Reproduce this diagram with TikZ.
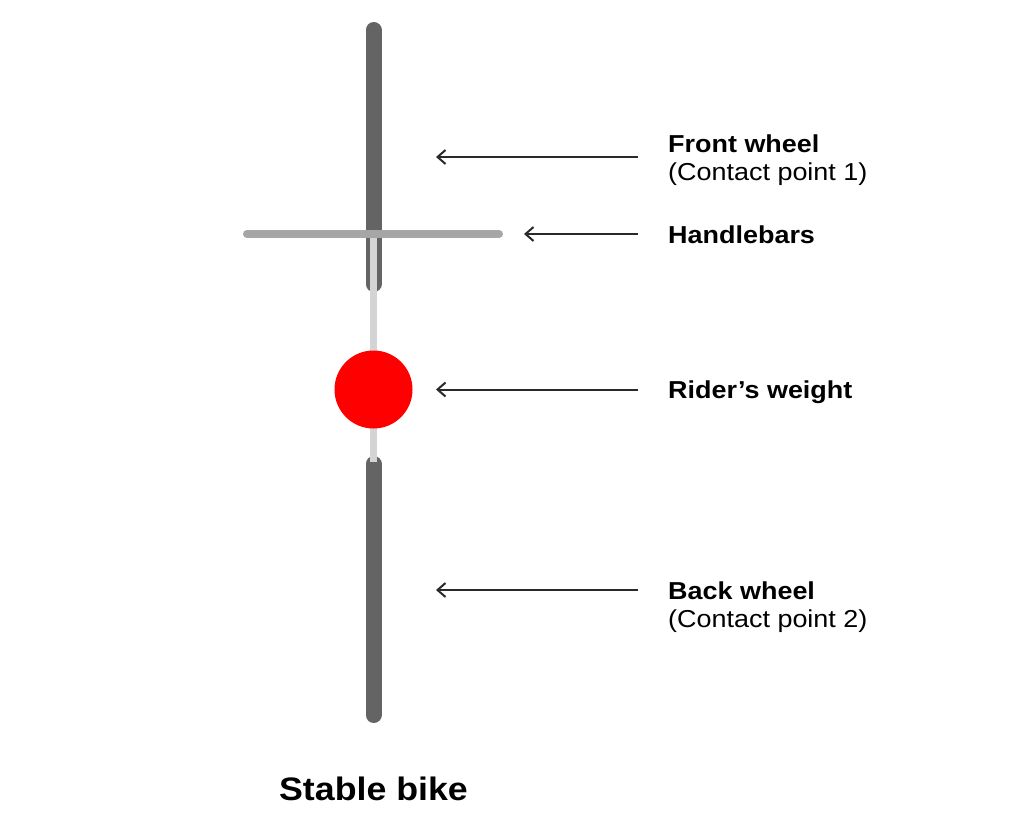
\documentclass[tikz,border=0pt]{standalone}
\usepackage{fontspec}
\setmainfont[FakeStretch=1.1]{Liberation Sans}
\usetikzlibrary{arrows.meta}
\definecolor{wheelgray}{HTML}{646464}
\definecolor{bargray}{HTML}{A6A6A6}
\definecolor{stemgray}{HTML}{D4D4D4}
\definecolor{arrowcol}{HTML}{2A2A2A}
\definecolor{riderred}{HTML}{FF0000}
\tikzset{
  wheel/.style={line width=16pt, line cap=round, draw=wheelgray},
  handlebar/.style={line width=8pt, line cap=round, draw=bargray},
  stem/.style={line width=7.5pt, draw=stemgray},
  pointer/.style={draw=arrowcol, line width=2pt, -{Straight Barb[length=8pt,width=14pt,line width=2pt]}},
  boldlabel/.style={anchor=base west, inner sep=0pt, font=\bfseries\fontsize{24.5}{28}\selectfont},
  plainlabel/.style={anchor=base west, inner sep=0pt, font=\fontsize{24.5}{28}\selectfont},
  titlelabel/.style={anchor=base, inner sep=0pt, font=\bfseries\fontsize{32.5}{38}\selectfont}
}
\begin{document}
\begin{tikzpicture}[x=1pt,y=-1pt]
\useasboundingbox (0,0) rectangle (1012,835);
% coordinates of the bike
\coordinate (fwtop) at (373.5,30);
\coordinate (fwbot) at (373.5,284);
\coordinate (bwtop) at (373.5,464);
\coordinate (bwbot) at (373.5,715);
\coordinate (stemtop) at (373.5,234);
\coordinate (stembot) at (373.5,462);
\coordinate (hbl) at (247,234);
\coordinate (hbr) at (499,234);
% wheels
\draw[wheel] (fwtop) -- (fwbot);
\draw[wheel] (bwtop) -- (bwbot);
% frame / stem
\draw[stem] (stemtop) -- (stembot);
% handlebars
\draw[handlebar] (hbl) -- (hbr);
% rider
\node[circle, fill=riderred, inner sep=0pt, minimum size=78pt] (rider) at (373.5,389.5) {};
% arrow coordinates
\coordinate (a1s) at (638,157);  \coordinate (a1e) at (436,157);
\coordinate (a2s) at (638,234);  \coordinate (a2e) at (524,234);
\coordinate (a3s) at (638,389.5);\coordinate (a3e) at (436,389.5);
\coordinate (a4s) at (638,590);  \coordinate (a4e) at (436,590);
\draw[pointer] (a1s) -- (a1e);
\draw[pointer] (a2s) -- (a2e);
\draw[pointer] (a3s) -- (a3e);
\draw[pointer] (a4s) -- (a4e);
% labels
\node[boldlabel] (fw) at (668,152.7) {Front wheel};
\node[plainlabel] (fw2) at (668,180.5) {(Contact point 1)};
\node[boldlabel] (hb) at (668,243) {Handlebars};
\node[boldlabel] (rw) at (668,398.5) {Rider’s weight};
\node[boldlabel] (bw) at (668,599) {Back wheel};
\node[plainlabel] (bw2) at (668,627) {(Contact point 2)};
\node[titlelabel] (title) at (373.5,800) {Stable bike};
\end{tikzpicture}
\end{document}
